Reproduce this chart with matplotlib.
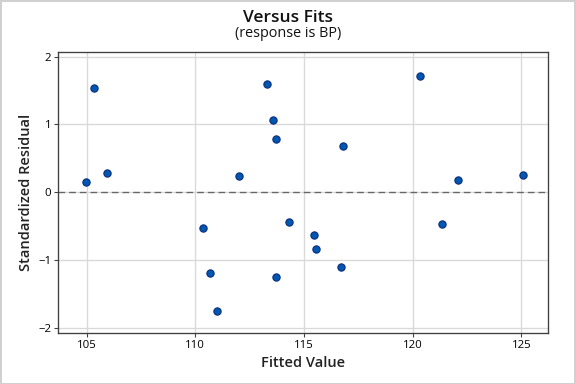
import matplotlib
matplotlib.use("Agg")
import matplotlib.pyplot as plt
from matplotlib.patches import Rectangle

plt.rcParams['font.family'] = ['Open Sans', 'DejaVu Sans']

fitted = [105.34, 104.95, 105.93, 113.29, 113.56, 113.71, 112.01,
          110.35, 114.31, 110.67, 113.71, 110.99,
          120.33, 116.79, 122.08, 125.07,
          115.46, 115.55, 116.70, 121.34]
resid = [1.54, 0.16, 0.28, 1.60, 1.07, 0.78, 0.24,
         -0.53, -0.44, -1.18, -1.25, -1.75,
         1.71, 0.68, 0.18, 0.25,
         -0.63, -0.84, -1.10, -0.46]
xticks = [105, 110, 115, 120, 125]
yticks = [-2, -1, 0, 1, 2]

fig = plt.figure(figsize=(6, 4), dpi=96)
ax = fig.add_axes([0.1007, 0.133, 0.851, 0.732])
ax.set_xlim(103.68, 126.23)
ax.set_ylim(-2.07, 2.07)
ax.set_xticks(xticks)
ax.set_yticks(yticks)
ax.grid(True, color='#d9d9d9', linewidth=1)
ax.set_axisbelow(True)
ax.axhline(0, color='#666666', linestyle=(0, (5, 3)), linewidth=1, zorder=2)
ax.scatter(fitted, resid, s=30, c='#0057B0', edgecolors='#0A2A7A', linewidths=0.8, zorder=3)
for s in ax.spines.values():
    s.set_color('#404040')
    s.set_linewidth(1)
ax.tick_params(colors='#404040', labelcolor='black', labelsize=8.5, length=3, pad=2)
ax.set_xlabel('Fitted Value', fontsize=11, fontweight='semibold', color='#222222', labelpad=4)
ax.set_ylabel('Standardized Residual', fontsize=11, fontweight='semibold', color='#222222', labelpad=4)
fig.text(0.5, 0.953, 'Versus Fits', ha='center', va='center', fontsize=13, fontweight='semibold', color='#111111')
fig.text(0.5, 0.912, '(response is BP)', ha='center', va='center', fontsize=10.8, color='#111111')
fig.patches.append(Rectangle((0.001, 0.001), 0.997, 0.997, transform=fig.transFigure,
                             fill=False, edgecolor='#d0d0d0', linewidth=1.5))
fig.savefig('out.png', dpi=96)
